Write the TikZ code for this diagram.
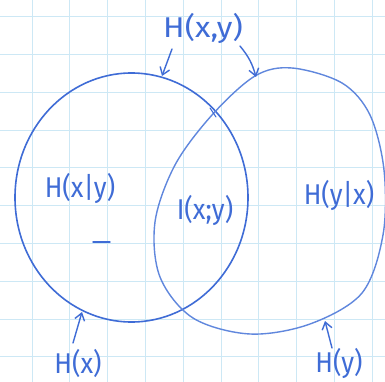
\documentclass[tikz,border=0pt]{standalone}
\usepackage{fontspec}
\setmainfont{Fira Sans}
\usetikzlibrary{arrows.meta}
\definecolor{pen}{HTML}{3F6CD6}
\definecolor{penlight}{HTML}{6E93E0}
\definecolor{gridc}{HTML}{CDE8F5}
\tikzset{
  gridline/.style={draw=gridc, line width=0.7pt},
  setline/.style={draw=pen, line width=1.6pt, line join=round},
  lbl/.style={text=pen, font=\fontsize{26}{30}\selectfont, inner sep=0pt, yscale=1.1},
  arr/.style={draw=pen, line width=1.4pt, line cap=round, -{Straight Barb[length=7pt,width=10pt,line width=1.4pt]}},
  pentick/.style={draw=pen, line width=1.4pt, line cap=round}
}
\begin{document}
\begin{tikzpicture}[x=1pt,y=-1pt]
\useasboundingbox (0,0) rectangle (385,382);
\fill[white] (0,0) rectangle (385,382);
% grid paper
\foreach \k in {0,...,9} {
  \draw[gridline] ({32+37.8*\k},0) -- ({32+37.8*\k},382);
  \draw[gridline] (0,{16.5+37.8*\k}) -- (385,{16.5+37.8*\k});
}
% left set H(x)
\draw[setline] (131.5,197.5) ellipse [x radius=116.5, y radius=124.5];
% right set H(y)
\draw[setline, line width=1.4pt, draw=penlight!70!pen] plot[smooth cycle, tension=0.55] coordinates {
  (292,68) (342,83) (370,115) (384,170) (383,235) (362,293) (310,324)
  (250,334) (193,318) (160,277) (155,222) (175,165) (212,115) (255,76)};
% labels
\node[lbl, xscale=1.22] (hxy) at (203,28) {H(x,y)};
\node[lbl] (hxgy) at (80,188) {H(x|y)};
\node[lbl] (ixy) at (205,210) {I(x;y)};
\node[lbl] (hygx) at (339,195) {H(y|x)};
\node[lbl] (hx) at (78,363) {H(x)};
\node[lbl] (hy) at (339,363) {H(y)};
% arrow ends
\coordinate (a1s) at (172,49);
\coordinate (a1t) at (162,76);
\coordinate (a2s) at (240,46);
\coordinate (a2t) at (256,77);
\coordinate (a3s) at (73,343);
\coordinate (a3t) at (82,312);
\coordinate (a4s) at (332,348);
\coordinate (a4t) at (325,321);
\draw[arr] (a1s) -- (a1t);
\draw[arr] (a2s) to[bend left=12] (a2t);
\draw[arr] (a3s) -- (a3t);
\draw[arr] (a4s) -- (a4t);
% stray marks
\coordinate (m1a) at (93,242);
\coordinate (m1b) at (110,242);
\draw[pentick] (m1a) -- (m1b);
\coordinate (m2a) at (210,108);
\coordinate (m2b) at (216,117);
\draw[pentick, line width=1pt] (m2a) -- (m2b);
\end{tikzpicture}
\end{document}
